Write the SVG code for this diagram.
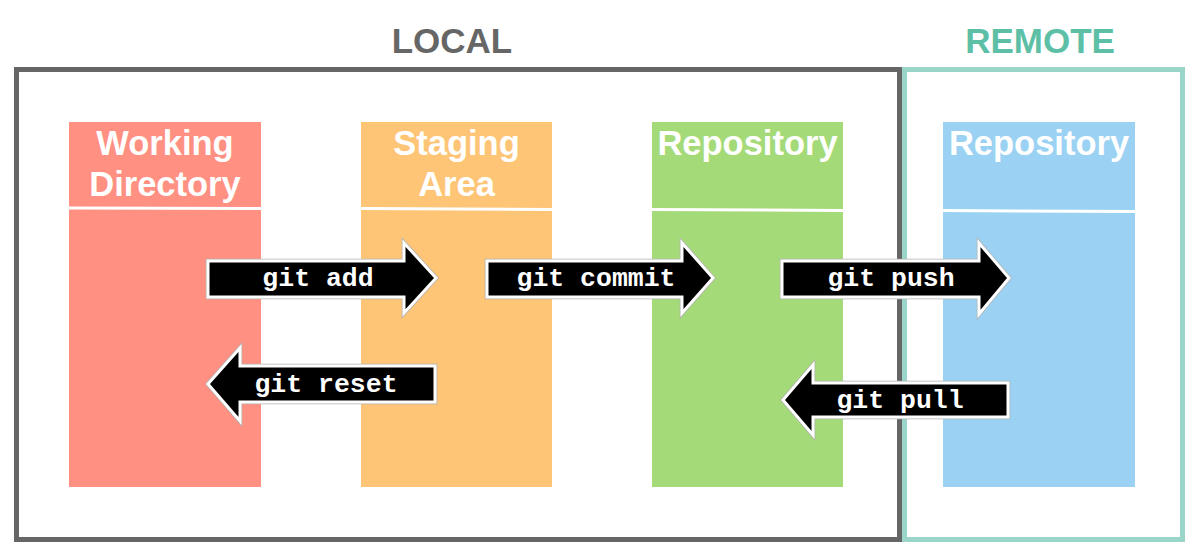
<svg xmlns="http://www.w3.org/2000/svg" width="1200" height="557" viewBox="0 0 1200 557">
<style>
.title{font-family:"Liberation Sans",Arial,sans-serif;font-weight:bold;font-size:35px;text-anchor:middle}
.head{font-family:"Liberation Sans",Arial,sans-serif;font-weight:bold;font-size:34.5px;fill:#fff;text-anchor:middle}
.cmd{font-family:"Liberation Mono","DejaVu Sans Mono",monospace;font-weight:bold;font-size:26.5px;fill:#fff;text-anchor:middle}
.div{stroke:#fff;stroke-width:3}
.arr-o{fill:none;stroke:#b0b0b0;stroke-width:4.5;stroke-linejoin:miter}
.arr{fill:#000;stroke:#fff;stroke-width:3;stroke-linejoin:miter}
</style>
<rect width="1200" height="557" fill="#fff"/>
<g id="local">
<rect x="16.5" y="69.5" width="883" height="470" fill="none" stroke="#666" stroke-width="5"/>
<text class="title" x="452" y="53" fill="#666">LOCAL</text>
</g>
<g id="remote">
<rect x="904.5" y="69.5" width="278" height="470" fill="none" stroke="#99d6c9" stroke-width="5"/>
<text class="title" x="1040" y="53" fill="#5cbfa6">REMOTE</text>
</g>
<g id="working-directory">
<rect x="69" y="122" width="192" height="365" fill="#ff9082"/>
<line class="div" x1="69" y1="208" x2="261" y2="208.5"/>
<text class="head" x="165" y="155">Working</text>
<text class="head" x="165" y="196">Directory</text>
</g>
<g id="staging-area">
<rect x="361" y="122" width="191" height="365" fill="#fec577"/>
<line class="div" x1="361" y1="208.5" x2="552" y2="209.5"/>
<text class="head" x="456.5" y="155">Staging</text>
<text class="head" x="456.5" y="196">Area</text>
</g>
<g id="local-repository">
<rect x="652" y="122" width="191" height="365" fill="#a5da78"/>
<line class="div" x1="652" y1="209.5" x2="843" y2="210.5"/>
<text class="head" x="747.5" y="155">Repository</text>
</g>
<g id="remote-repository">
<rect x="943" y="122" width="192" height="365" fill="#9bd2f3"/>
<line class="div" x1="943" y1="210.5" x2="1135" y2="211.5"/>
<text class="head" x="1039" y="155">Repository</text>
</g>
<g id="connectors">
<g id="git-add">
<path class="arr-o" d="M208,261 H404 V243 L436,278 L404,313 V297 H208 Z"/>
<path class="arr" d="M208,261 H404 V243 L436,278 L404,313 V297 H208 Z"/>
<text class="cmd" x="318" y="286">git add</text>
</g>
<g id="git-commit">
<path class="arr-o" d="M487,261 H682 V243 L713,278 L682,313 V297 H487 Z"/>
<path class="arr" d="M487,261 H682 V243 L713,278 L682,313 V297 H487 Z"/>
<text class="cmd" x="596" y="286">git commit</text>
</g>
<g id="git-reset">
<path class="arr-o" d="M435,366 H240 V348 L208,384 L240,421 V402 H435 Z"/>
<path class="arr" d="M435,366 H240 V348 L208,384 L240,421 V402 H435 Z"/>
<text class="cmd" x="326" y="392">git reset</text>
</g>
<g id="git-push">
<path class="arr-o" d="M782,261 H979 V243 L1009,278 L979,314 V297 H782 Z"/>
<path class="arr" d="M782,261 H979 V243 L1009,278 L979,314 V297 H782 Z"/>
<text class="cmd" x="891" y="286">git push</text>
</g>
<g id="git-pull">
<path class="arr-o" d="M1008,383 H813 V365 L783,400 L813,435 V417 H1008 Z"/>
<path class="arr" d="M1008,383 H813 V365 L783,400 L813,435 V417 H1008 Z"/>
<text class="cmd" x="900" y="408">git pull</text>
</g>
</g>
</svg>
